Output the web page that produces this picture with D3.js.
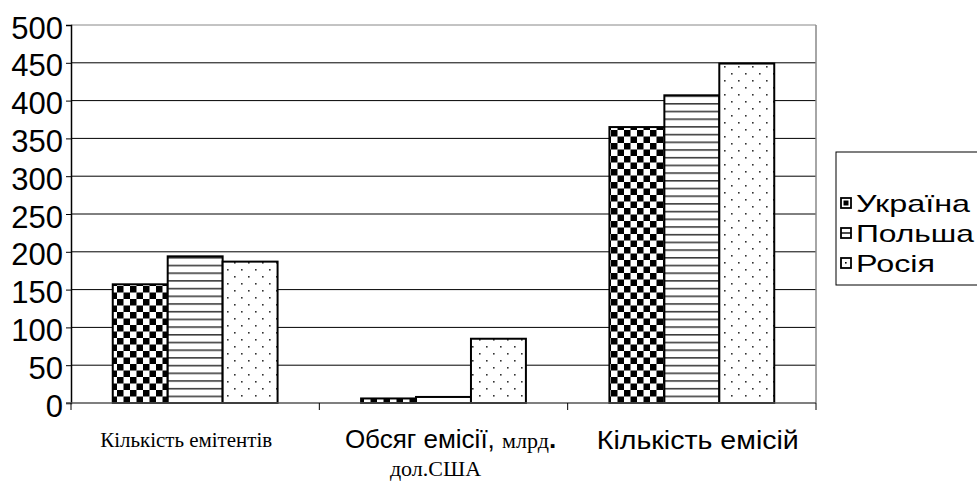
<!DOCTYPE html>
<html>
<head>
<meta charset="utf-8">
<script src="https://cdn.jsdelivr.net/npm/d3@7"></script>
<style>
  body { margin: 0; background: #fff; }
  svg { display: block; }
</style>
</head>
<body>
<svg id="chart"></svg>
<script>
const categories = ["Кількість емітентів", "Обсяг емісії", "Кількість емісій"];
const seriesNames = ["Україна", "Польша", "Росія"];
const ukraine = [157, 6, 365];
const poland = [194, 8, 407];
const russia = [187, 85, 449];
const yTicks = [0, 50, 100, 150, 200, 250, 300, 350, 400, 450, 500];

const width = 977, height = 481;
const margin = { left: 71, right: 161, top: 25, bottom: 78 };
const sans = "Liberation Sans, Arial, sans-serif";
const serif = "Liberation Serif, Times New Roman, serif";

const svg = d3.select("#chart").attr("width", width).attr("height", height);
const defs = svg.append("defs");

// fill patterns
const pChk = defs.append("pattern").attr("id", "chk").attr("patternUnits", "userSpaceOnUse")
  .attr("width", 13).attr("height", 13);
pChk.append("rect").attr("width", 13).attr("height", 13).attr("fill", "#fff");
pChk.append("rect").attr("width", 6.5).attr("height", 6.5).attr("fill", "#000");
pChk.append("rect").attr("x", 6.5).attr("y", 6.5).attr("width", 6.5).attr("height", 6.5).attr("fill", "#000");

const pHor = defs.append("pattern").attr("id", "hor").attr("patternUnits", "userSpaceOnUse")
  .attr("width", 8).attr("height", 7.7);
pHor.append("rect").attr("width", 8).attr("height", 7.7).attr("fill", "#fff");
pHor.append("rect").attr("y", 3).attr("width", 8).attr("height", 1.4).attr("fill", "#222");

const pDot = defs.append("pattern").attr("id", "dot").attr("patternUnits", "userSpaceOnUse")
  .attr("width", 14).attr("height", 14);
pDot.append("rect").attr("width", 14).attr("height", 14).attr("fill", "#fff");
pDot.append("rect").attr("x", 3).attr("y", 3).attr("width", 1.6).attr("height", 1.6).attr("fill", "#333");
pDot.append("rect").attr("x", 10).attr("y", 10).attr("width", 1.6).attr("height", 1.6).attr("fill", "#333");

const fills = ["url(#chk)", "url(#hor)", "url(#dot)"];
const series = [ukraine, poland, russia];

const x0 = d3.scaleBand().domain(categories).range([margin.left, width - margin.right]);
const x1 = d3.scaleBand().domain(seriesNames).range([0, x0.bandwidth()]).paddingOuter(0.76).paddingInner(0);
const y = d3.scaleLinear().domain([0, 500]).range([height - margin.bottom, margin.top]);

// gridlines
svg.append("g").selectAll("line").data(yTicks.filter(d => d > 0)).join("line")
  .attr("x1", margin.left).attr("x2", width - margin.right)
  .attr("y1", d => y(d)).attr("y2", d => y(d))
  .attr("stroke", d => d === 500 ? "#888" : "#000").attr("stroke-width", 1);

// right border of plot area
svg.append("line")
  .attr("x1", width - margin.right).attr("x2", width - margin.right)
  .attr("y1", y(500)).attr("y2", y(0)).attr("stroke", "#888").attr("stroke-width", 1.5);

// bars
series.forEach((vals, si) => {
  svg.append("g").selectAll("rect").data(vals).join("rect")
    .attr("x", (d, i) => x0(categories[i]) + x1(seriesNames[si]))
    .attr("y", d => y(d))
    .attr("width", x1.bandwidth())
    .attr("height", d => y(0) - y(d))
    .attr("fill", fills[si])
    .attr("stroke", "#000").attr("stroke-width", 2);
});

// y axis
const yAxis = d3.axisLeft(y).tickValues(yTicks).tickSize(5).tickPadding(3);
const gy = svg.append("g").attr("transform", `translate(${margin.left},0)`).call(yAxis);
gy.select(".domain").attr("stroke", "#000").attr("stroke-width", 1.5);
gy.selectAll(".tick line").attr("stroke", "#000");
gy.selectAll("text").attr("font-family", sans)
  .attr("font-size", 31).attr("fill", "#000").attr("dy", "0.42em");

// x axis
const gx = svg.append("g").attr("transform", `translate(0,${y(0)})`);
gx.append("line").attr("x1", margin.left - 5).attr("x2", width - margin.right)
  .attr("stroke", "#555").attr("stroke-width", 1.5);
gx.selectAll(".xt").data(categories).join("line").attr("class", "xt")
  .attr("x1", d => x0(d) + x0.bandwidth()).attr("x2", d => x0(d) + x0.bandwidth())
  .attr("y1", 0).attr("y2", 7).attr("stroke", "#000");
gx.append("line").attr("x1", margin.left).attr("x2", margin.left).attr("y1", 0).attr("y2", 7).attr("stroke", "#000");

// category labels
const cx = d => x0(d) + x0.bandwidth() / 2;
svg.append("text").attr("x", cx(categories[0]) - 9).attr("y", 447)
  .attr("text-anchor", "middle").attr("font-family", serif)
  .attr("font-size", 21).attr("textLength", 172).attr("lengthAdjust", "spacingAndGlyphs")
  .text(categories[0]);

const t2 = svg.append("text").attr("x", cx(categories[1]) + 7).attr("y", 448).attr("text-anchor", "middle");
t2.append("tspan").attr("font-family", sans).attr("font-size", 26).text(categories[1] + ", ");
t2.append("tspan").attr("font-family", serif).attr("font-size", 22).text("млрд");
t2.append("tspan").attr("font-family", sans).attr("font-size", 26).attr("font-weight", "bold").text(".");
svg.append("text").attr("x", cx(categories[1]) - 8).attr("y", 476).attr("text-anchor", "middle")
  .attr("font-family", serif).attr("font-size", 22).text("дол.США");

svg.append("text").attr("x", cx(categories[2]) + 6).attr("y", 449)
  .attr("text-anchor", "middle").attr("font-family", sans)
  .attr("font-size", 25).attr("textLength", 202).attr("lengthAdjust", "spacingAndGlyphs")
  .text(categories[2]);

// legend
const legendWidths = [114, 118, 79];
const lg = svg.append("g").attr("transform", "translate(836,152)");
lg.append("rect").attr("width", 150).attr("height", 133).attr("fill", "#fff")
  .attr("stroke", "#000").attr("stroke-width", 1);
const li = lg.selectAll(".li").data(seriesNames).join("g").attr("class", "li")
  .attr("transform", (d, i) => `translate(5,${51 + i * 30})`);
li.append("rect").attr("x", 0).attr("y", -5).attr("width", 10).attr("height", 10)
  .attr("fill", "#fff").attr("stroke", "#000").attr("stroke-width", 1.8);
li.filter((d, i) => i === 0).append("rect").attr("x", 2.5).attr("y", -2.5).attr("width", 5).attr("height", 5)
  .attr("fill", "#000");
li.filter((d, i) => i === 1).append("line").attr("x1", 0).attr("x2", 10).attr("y1", 0).attr("y2", 0)
  .attr("stroke", "#000").attr("stroke-width", 1.4);
li.filter((d, i) => i === 2).append("rect").attr("x", 4).attr("y", -1).attr("width", 1.6).attr("height", 1.6).attr("fill", "#000");
li.append("text").attr("x", 15).attr("dy", "0.36em")
  .attr("font-family", sans).attr("font-size", 24)
  .attr("textLength", (d, i) => legendWidths[i]).attr("lengthAdjust", "spacingAndGlyphs")
  .text(d => d);
</script>
</body>
</html>
